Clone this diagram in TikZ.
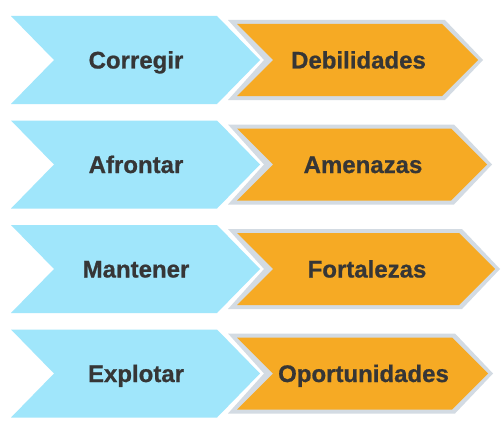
\documentclass[tikz,border=0pt]{standalone}
\usepackage{fontspec}
\setmainfont{Liberation Sans}
\newfontfamily\lblfont[FakeBold=0.8]{Liberation Sans Bold}
\definecolor{bluefill}{HTML}{A0E6FB}
\definecolor{orangefill}{HTML}{F6AA24}
\definecolor{grayedge}{HTML}{D3DBE3}
\definecolor{txt}{HTML}{363636}
\tikzset{
  bluechev/.style={fill=bluefill},
  orangeedge/.style={fill=grayedge},
  orangechev/.style={fill=orangefill},
  lbl/.style={anchor=base, text=txt, font=\lblfont\fontsize{24}{28}\selectfont, inner sep=0pt}
}
\begin{document}
\begin{tikzpicture}[x=1pt,y=-1pt]
\useasboundingbox[fill=white] (0,0) rectangle (502,433);
\foreach \cy/\tip/\lt/\rt [count=\i] in {60/478/Corregir/Debilidades, 164.5/487/Afrontar/Amenazas, 269/495/Mantener/Fortalezas, 373.5/488/Explotar/Oportunidades}{
  \fill[bluechev] (11,{\cy-44}) -- (217,{\cy-44}) -- (260,\cy) -- (217,{\cy+44}) -- (11,{\cy+44}) -- (54,\cy) -- cycle;
  \fill[orangeedge] (228,{\cy-40}) -- ({\tip-33},{\cy-40}) -- ({\tip+5},\cy) -- ({\tip-33},{\cy+40}) -- (228,{\cy+40}) -- (264,\cy) -- cycle;
  \fill[orangechev] (237,{\cy-36}) -- ({\tip-36},{\cy-36}) -- (\tip,\cy) -- ({\tip-36},{\cy+36}) -- (237,{\cy+36}) -- (273,\cy) -- cycle;
  \node[lbl] (left\i) at (136,{\cy+8.5}) {\lt};
  \node[lbl] (right\i) at ({(237+\tip)/2+1},{\cy+8.5}) {\rt};
}
\end{tikzpicture}
\end{document}
